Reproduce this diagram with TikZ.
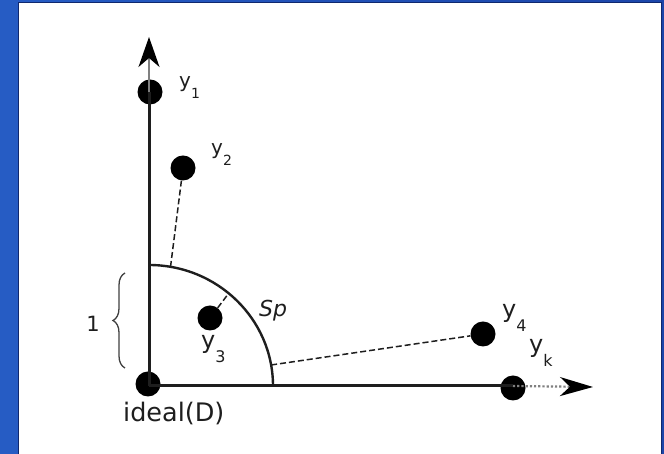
\documentclass[tikz,border=0pt]{standalone}
\usepackage{fontspec}
\setmainfont{DejaVu Sans}
\usetikzlibrary{arrows.meta,decorations.pathreplacing,calc}
\definecolor{bgblueL}{RGB}{38,92,196}
\definecolor{bgblueR}{RGB}{28,70,170}
\definecolor{edgeblue}{RGB}{15,40,110}
\definecolor{ink}{RGB}{30,30,30}
\newcommand{\ylab}[3]{{\fontsize{#1}{#1}\selectfont y\raisebox{-0.55em}{\fontsize{#2}{#2}\selectfont #3}}}
\begin{document}
\begin{tikzpicture}[x=1pt,y=1pt,
  dot/.style={circle,fill=black,minimum size=25pt,inner sep=0pt},
  axisln/.style={line width=3pt,draw=ink},
  thinln/.style={line width=1.5pt,draw=gray},
  dotln/.style={line width=2.2pt,draw=gray,dotted},
  dashln/.style={line width=1.5pt,draw=ink,dash pattern=on 6pt off 3pt},
  arcln/.style={line width=2.4pt,draw=ink},
  lab/.style={inner sep=0pt,text=ink},
]
\useasboundingbox (0,0) rectangle (664,454);
\shade[left color=bgblueL,right color=bgblueR] (0,0) rectangle (664,454);
\fill[white] (19,-5) rectangle (661,451);
\draw[edgeblue,line width=1.5pt] (18.5,-5) -- (18.5,451.5) -- (661.5,451.5) -- (661.5,-5);

% key points
\coordinate (C) at (149,68);
\coordinate (T) at (149,417);
\coordinate (R) at (593,67);

% dots
\node[dot] (O) at (148,70) {};
\node[dot] (y1) at (150,362) {};
\node[dot] (y2) at (183,286) {};
\node[dot] (y3) at (210,136) {};
\node[dot] (y4) at (483,120) {};
\node[dot] (yk) at (513,66) {};

% axes
\draw[axisln] (C) -- (C |- y1);
\draw[thinln,-{Stealth[length=30pt,width=21pt,inset=9pt,color=black]}] (C |- y1) -- (T);
\draw[axisln] (C) -- (yk |- C);
\draw[dotln,-{Stealth[length=33pt,width=19pt,inset=10pt,color=black]}] (yk |- C) -- (R);

% arc Sp
\coordinate (atop) at ($(C)+(0,121)$);
\draw[arcln] (atop) arc[start angle=90,end angle=0,x radius=124,y radius=121];
\coordinate (a2) at ($(C)+(80:124 and 121)$);
\coordinate (a3) at ($(C)+(50:124 and 121)$);
\coordinate (a4) at ($(C)+(10:124 and 121)$);

% distances
\draw[dashln] (y2) -- (a2);
\draw[dashln] (y3) -- (a3);
\draw[dashln] (a4) -- (y4);

% brace
\coordinate (b1) at (125,86);
\coordinate (b2) at (125,181);
\draw[line width=1.3pt,draw=ink!85,decorate,decoration={brace,amplitude=12pt}] (b1) -- (b2);

% labels
\node[lab,anchor=base west] (l1) at (179,366) {\ylab{20}{14}{1}};
\node[lab,anchor=base west] (l2) at (211,299) {\ylab{20}{14}{2}};
\node[lab,anchor=base west] (l3) at (201,105) {\ylab{24}{16}{3}};
\node[lab,anchor=base west] (l4) at (502,136) {\ylab{24}{16}{4}};
\node[lab,anchor=base west] (lk) at (529,101) {\ylab{24}{16}{k}};
\node[lab,anchor=base west,font=\fontsize{22}{22}\selectfont\itshape] (sp) at (259,137) {Sp};
\node[lab,anchor=base east,font=\fontsize{21}{21}\selectfont] (one) at (100,122) {1};
\node[lab,anchor=base west,font=\fontsize{25.5}{25.5}\selectfont] (id) at (123,32) {ideal(D)};
\end{tikzpicture}
\end{document}
